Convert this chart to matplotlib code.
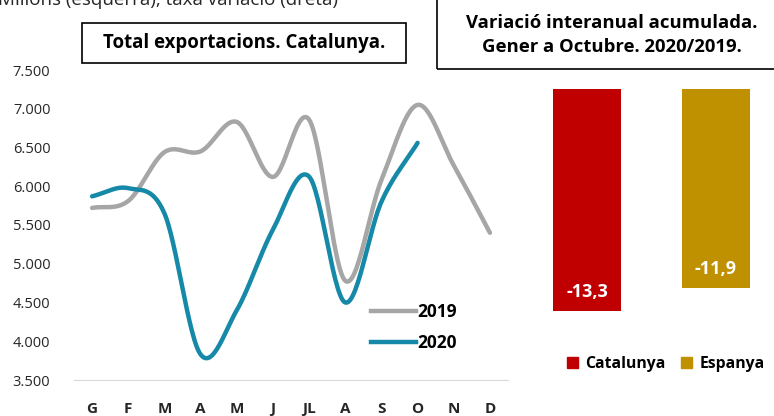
import numpy as np
import matplotlib
matplotlib.use('Agg')
import matplotlib.pyplot as plt
from matplotlib.patches import Rectangle
from matplotlib.lines import Line2D

plt.rcParams['font.family'] = ['Open Sans', 'DejaVu Sans']

# data
mesos = ['G', 'F', 'M', 'A', 'M', 'J', 'JL', 'A', 'S', 'O', 'N', 'D']
exp_2019 = [5720, 5810, 6440, 6450, 6830, 6120, 6860, 4780, 6080, 7050, 6270, 5400]
exp_2020 = [5870, 5975, 5650, 3830, 4400, 5440, 6125, 4500, 5800, 6560]
territoris = ['Catalunya', 'Espanya']
variacio = [-13.3, -11.9]
colors_barres = ['#C00000', '#BF9000']

GRIS = '#A6A6A6'
BLAU = '#1589A7'


def suavitza(x, y, n=30):
    # catmull-rom, similar to excel smoothed lines
    x = np.asarray(x, float)
    y = np.asarray(y, float)
    px = np.concatenate([[2 * x[0] - x[1]], x, [2 * x[-1] - x[-2]]])
    py = np.concatenate([[2 * y[0] - y[1]], y, [2 * y[-1] - y[-2]]])
    xs, ys = [], []
    t = np.linspace(0, 1, n)
    for i in range(1, len(px) - 2):
        for p, out in ((px, xs), (py, ys)):
            p0, p1, p2, p3 = p[i - 1], p[i], p[i + 1], p[i + 2]
            out.extend(0.5 * ((2 * p1) + (-p0 + p2) * t
                              + (2 * p0 - 5 * p1 + 4 * p2 - p3) * t ** 2
                              + (-p0 + 3 * p1 - 3 * p2 + p3) * t ** 3))
    return np.array(xs), np.array(ys)


fig = plt.figure(figsize=(7.74, 4.16), dpi=100)
W, H = 774, 416

# ---- left chart
ax = fig.add_axes([74 / W, (H - 380) / H, 434 / W, 310 / H])
x1 = np.arange(len(exp_2019))
x2 = np.arange(len(exp_2020))
sx, sy = suavitza(x1, exp_2019)
ax.plot(sx, sy, color=GRIS, lw=3.2, solid_capstyle='round')
sx, sy = suavitza(x2, exp_2020)
ax.plot(sx, sy, color=BLAU, lw=3.2, solid_capstyle='round')
ax.set_xlim(-0.5, 11.5)
ax.set_ylim(3500, 7500)
ax.set_yticks(np.arange(3500, 7501, 500))
ax.set_yticklabels([f'{v:,}'.replace(',', '.') for v in range(3500, 7501, 500)], fontsize=10.5)
ax.set_xticks(x1)
ax.set_xticklabels(mesos, fontsize=11, fontweight='bold')
for s in ['top', 'right', 'left']:
    ax.spines[s].set_visible(False)
ax.spines['bottom'].set_color('#D9D9D9')
ax.tick_params(axis='y', length=0, pad=17, colors='#262626')
ax.tick_params(axis='x', length=0, pad=16, colors='#262626')

handles = [Line2D([], [], color=GRIS, lw=3.2), Line2D([], [], color=BLAU, lw=3.2)]
ax.legend(handles, ['2019', '2020'], loc='lower left', bbox_to_anchor=(0.648, 0.04),
          frameon=False, prop={'weight': 'bold', 'size': 12.5}, handlelength=2.6,
          handletextpad=0.1, labelspacing=0.75)

fig.text(-2 / W, 1.0, 'Milions (esquerra), taxa variació (dreta)', fontsize=13.5,
         va='center', ha='left', color='#262626')
fig.add_artist(Rectangle((82 / W, (H - 63) / H), 324 / W, 40 / H, transform=fig.transFigure,
                         fill=False, ec='black', lw=1.2))
fig.text(244 / W, (H - 43) / H, 'Total exportacions. Catalunya.', fontsize=13.4,
         fontweight='bold', ha='center', va='center')

# ---- right chart
ax2 = fig.add_axes([523 / W, (H - 339) / H, 257 / W, 250 / H])
ax2.bar([0, 1], variacio, width=0.53, color=colors_barres)
for i, v in enumerate(variacio):
    ax2.text(i, v + 1.15, f'{v:.1f}'.replace('.', ','), ha='center', va='center',
             color='white', fontsize=13, fontweight='bold')
ax2.set_xlim(-0.5, 1.5)
ax2.set_ylim(-14.97, 0)
ax2.axis('off')

fig.add_artist(Rectangle((437 / W, (H - 69) / H), 340 / W, 70 / H, transform=fig.transFigure,
                         fill=False, ec='black', lw=1.2, clip_on=False))
fig.text(612 / W, (H - 35) / H, 'Variació interanual acumulada.\nGener a Octubre. 2020/2019.',
         fontsize=13.3, fontweight='bold', ha='center', va='center', linespacing=1.45)

bar_handles = [Rectangle((0, 0), 1, 1, color=c) for c in colors_barres]
fig.legend(bar_handles, territoris, loc='center', bbox_to_anchor=(666 / W, (H - 364) / H),
           ncol=2, frameon=False, prop={'weight': 'bold', 'size': 11.3},
           handlelength=0.7, handleheight=0.7, handletextpad=0.45, columnspacing=1.0)

fig.savefig('out.png', dpi=100)
